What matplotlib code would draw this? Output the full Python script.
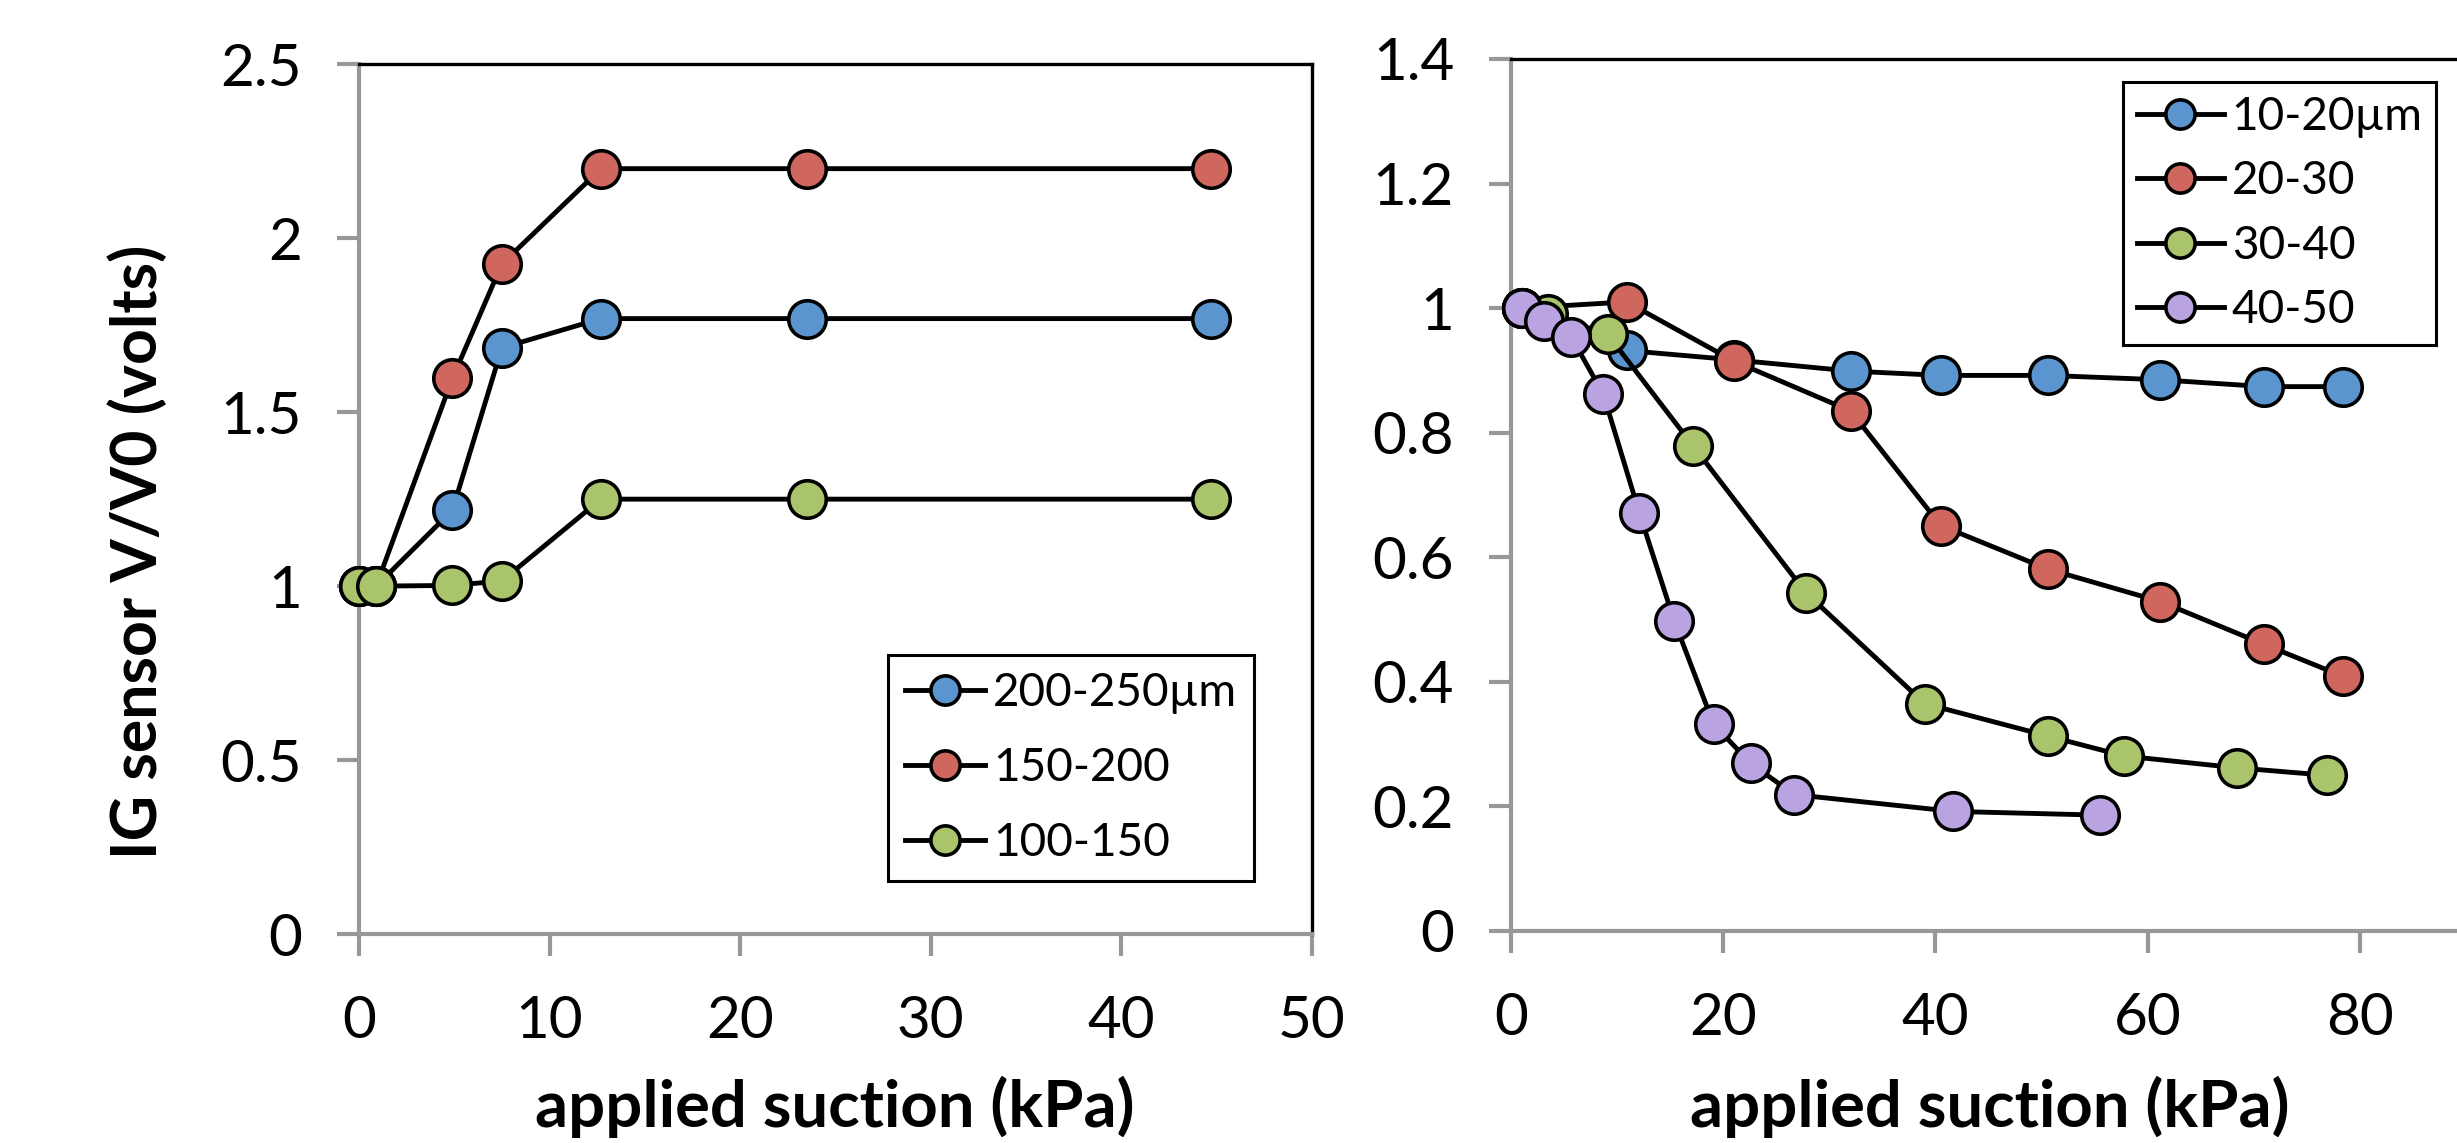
import matplotlib.pyplot as plt

plt.rcParams['font.family'] = ['Lato', 'DejaVu Sans']

# left chart: coarse particles
left_x = [0, 0.9, 4.9, 7.5, 12.7, 23.5, 44.7]
left_labels = ['200-250\u00b5m', '150-200', '100-150']
left_y = [
    [1.0, 1.0, 1.218, 1.685, 1.769, 1.769, 1.769],
    [1.0, 1.0, 1.597, 1.926, 2.2, 2.2, 2.2],
    [1.0, 1.0, 1.002, 1.015, 1.25, 1.25, 1.25],
]

# right chart: fine particles
right_labels = ['10-20\u00b5m', '20-30', '30-40', '40-50']
right_x = [
    [1.0, 10.9, 21.0, 32.0, 40.5, 50.6, 61.2, 71.0, 78.4],
    [1.0, 10.9, 21.0, 32.0, 40.5, 50.6, 61.2, 71.0, 78.4],
    [1.0, 3.5, 9.1, 17.2, 27.8, 39.0, 50.6, 57.8, 68.4, 76.9],
    [1.0, 3.1, 5.7, 8.7, 12.1, 15.4, 19.1, 22.6, 26.7, 41.7, 55.5],
]
right_y = [
    [1.0, 0.932, 0.917, 0.899, 0.892, 0.892, 0.885, 0.874, 0.874],
    [1.0, 1.01, 0.915, 0.835, 0.651, 0.581, 0.529, 0.46, 0.409],
    [1.0, 0.99, 0.958, 0.778, 0.543, 0.365, 0.313, 0.281, 0.262, 0.25],
    [1.0, 0.979, 0.953, 0.862, 0.671, 0.497, 0.332, 0.269, 0.219, 0.192, 0.186],
]

left_xticks = [0, 10, 20, 30, 40, 50]
left_yticks = [0, 0.5, 1, 1.5, 2, 2.5]
left_yticklabels = ['0', '0.5', '1', '1.5', '2', '2.5']
right_xticks = [0, 20, 40, 60, 80, 100]
right_xticklabels = ['0', '20', '40', '60', '80', '']  # 100 falls outside the crop
right_yticks = [0, 0.2, 0.4, 0.6, 0.8, 1, 1.2, 1.4]
right_yticklabels = ['0', '0.2', '0.4', '0.6', '0.8', '1', '1.2', '1.4']

colors = ['#5b95cf', '#d0675e', '#a9c46a', '#b9a3e0']
W, H = 2457, 1143


def style_axes(ax):
    for s in ['left', 'bottom']:
        ax.spines[s].set_color('#989898')
        ax.spines[s].set_linewidth(3)
    for s in ['top', 'right']:
        ax.spines[s].set_color('black')
        ax.spines[s].set_linewidth(2.4)
    ax.tick_params(direction='out', length=16, width=3, color='#989898',
                   labelsize=42)
    ax.tick_params(axis='y', pad=25)
    ax.tick_params(axis='x', pad=28)


def draw(ax, xs, ys, labels):
    for i in range(len(labels)):
        ax.plot(xs[i], ys[i], '-o', color='black', lw=3.5, ms=27,
                mfc=colors[i], mec='black', mew=2.6, label=labels[i],
                clip_on=False, zorder=3 + i)


def add_legend(ax, x, y, spacing, bpad, hlen):
    leg = ax.legend(loc='upper left', bbox_to_anchor=(x / W, 1 - y / H),
                    bbox_transform=fig.transFigure, fontsize=33, frameon=True,
                    fancybox=False, edgecolor='black', framealpha=1,
                    borderaxespad=0, borderpad=bpad, labelspacing=spacing,
                    handlelength=hlen, handletextpad=0.17, markerscale=0.78)
    leg.get_frame().set_linewidth(2.2)


fig = plt.figure(figsize=(W / 100, H / 100), dpi=100)

ax1 = fig.add_axes([359 / W, 1 - 934 / H, (1311.7 - 359) / W, (934 - 64.3) / H])
draw(ax1, [left_x] * 3, left_y, left_labels)
ax1.set_xlim(0, 50)
ax1.set_ylim(0, 2.5)
ax1.set_xticks(left_xticks)
ax1.set_yticks(left_yticks)
ax1.set_yticklabels(left_yticklabels)
style_axes(ax1)
add_legend(ax1, 888, 655, 0.72, 0.37, 1.75)

ax2 = fig.add_axes([1511 / W, 1 - 931 / H, (2572 - 1511) / W, (931 - 59) / H])
draw(ax2, right_x, right_y, right_labels)
ax2.set_xlim(0, 100)
ax2.set_ylim(0, 1.4)
ax2.set_xticks(right_xticks)
ax2.set_xticklabels(right_xticklabels)
ax2.set_yticks(right_yticks)
ax2.set_yticklabels(right_yticklabels)
style_axes(ax2)
add_legend(ax2, 2123, 82, 0.49, 0.3, 1.9)

fig.text(835 / W, 1 - 1127 / H, 'applied suction (kPa)', ha='center',
         va='baseline', fontsize=47, fontweight='bold')
fig.text(1990 / W, 1 - 1127 / H, 'applied suction (kPa)', ha='center',
         va='baseline', fontsize=47, fontweight='bold')
fig.text(138 / W, 1 - 552 / H, 'IG sensor V/V0 (volts)', ha='center',
         va='center', rotation=90, fontsize=45, fontweight='bold')

fig.savefig('out.png', dpi=100)
